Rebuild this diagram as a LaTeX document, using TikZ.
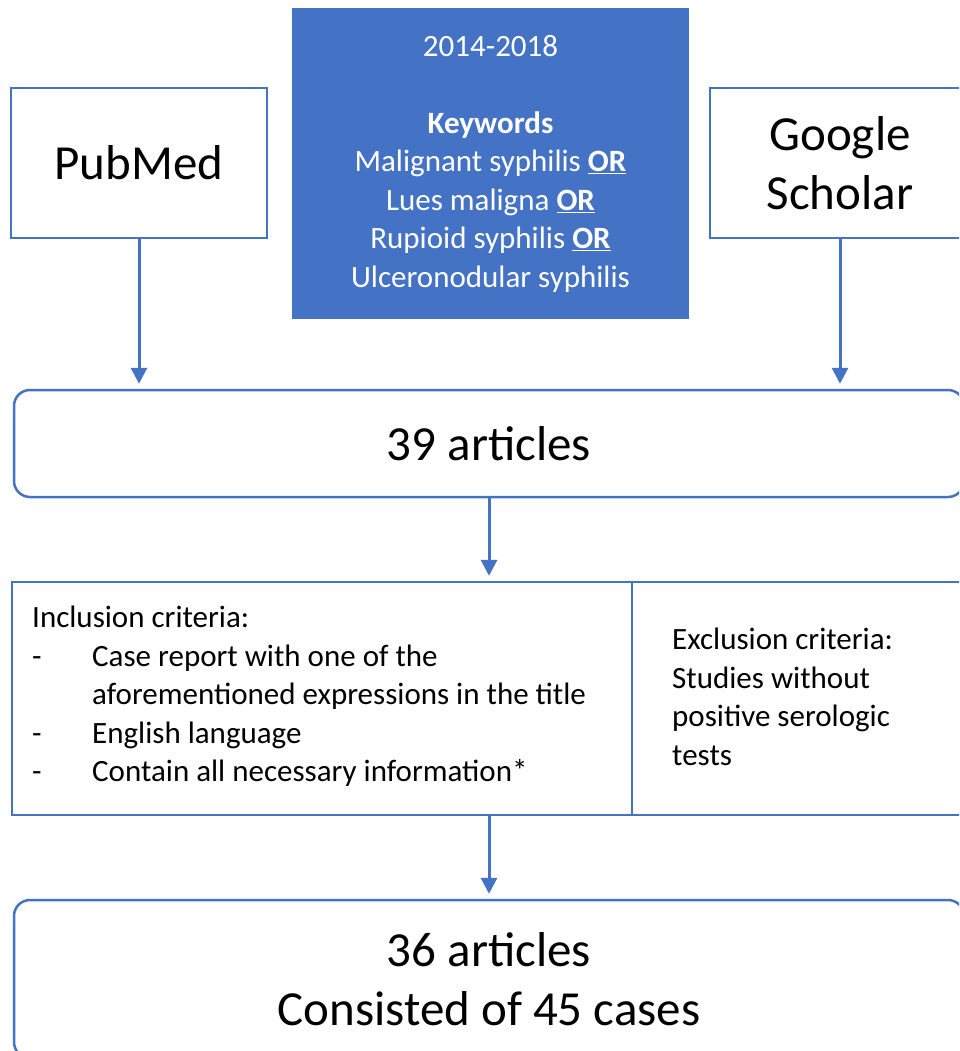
\documentclass[tikz,border=0pt]{standalone}
\usepackage{fontspec}
\setmainfont{Carlito}
\usetikzlibrary{arrows.meta}
\definecolor{accent}{HTML}{4472C4}
\begin{document}
\begin{tikzpicture}[x=1pt,y=-1pt,
  box/.style={draw=accent,line width=2.5pt,inner sep=0pt,align=center,fill=white},
  rbox/.style={box,rounded corners=16pt},
  conn/.style={draw=accent,line width=3pt,-{Triangle[width=16pt,length=16pt]},shorten >=5pt},
  bigtxt/.style={font=\fontsize{49}{59}\selectfont},
  midtxt/.style={font=\fontsize{31}{38.5}\selectfont}]
\useasboundingbox (0,0) rectangle (959,1051);
\clip (0,0) rectangle (959,1051);
\fill[white] (0,0) rectangle (959,1051);

\node[box,bigtxt,minimum width=256pt,minimum height=150pt] (pub) at (139,163) {PubMed};
\node[box,bigtxt,minimum width=260pt,minimum height=150pt] (gs) at (840,163) {Google\\Scholar};
\node[box,fill=accent,text=white,midtxt,minimum width=395pt,minimum height=309pt] (kw) at (490.5,163.5)
  {2014-2018\\[38.5pt]\textbf{Keywords}\\Malignant syphilis \underline{\textbf{OR}}\\Lues maligna \underline{\textbf{OR}}\\Rupioid syphilis \underline{\textbf{OR}}\\Ulceronodular syphilis};

\node[rbox,bigtxt,minimum width=950pt,minimum height=107pt] (a39) at (489,443.5) {39 articles};

\node[box,minimum width=954pt,minimum height=233pt] (crit) at (489,698.5) {};
\coordinate (div) at (632,0);
\draw[accent,line width=2.5pt] (crit.north -| div) -- (crit.south -| div);
\node[anchor=west,inner sep=0pt,midtxt] (incl) at (32,697)
  {\begin{tabular}{@{}p{60pt}@{}l@{}}
   \multicolumn{2}{@{}l@{}}{Inclusion criteria:}\\
   - & Case report with one of the\\
     & aforementioned expressions in the title\\
   - & English language\\
   - & Contain all necessary information*
   \end{tabular}};
\node[anchor=west,inner sep=0pt,midtxt,align=left] (excl) at (672,697)
  {Exclusion criteria:\\Studies without\\positive serologic\\tests};

\node[rbox,bigtxt,minimum width=950pt,minimum height=158pt] (a36) at (489,979) {36 articles\\Consisted of 45 cases};

\draw[conn] (pub.south) -- (pub.south |- a39.north);
\draw[conn] (gs.south) -- (gs.south |- a39.north);
\draw[conn] (a39.south) -- (crit.north);
\draw[conn] (crit.south) -- (a36.north);
\end{tikzpicture}
\end{document}
